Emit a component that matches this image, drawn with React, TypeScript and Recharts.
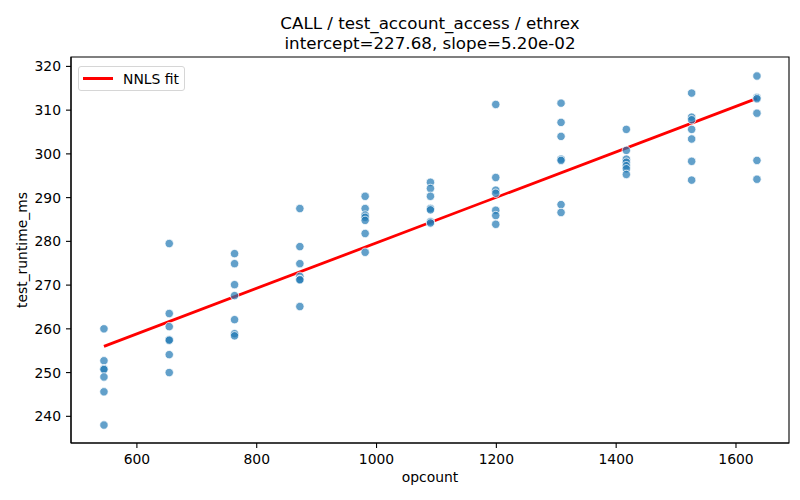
import { ComposedChart, Scatter, Line, XAxis, YAxis, ReferenceArea } from "recharts";

const opcounts = [545, 654, 763, 872, 981, 1090, 1199, 1308, 1417, 1526, 1635];

// runtimes (ms) for each opcount, top to bottom
const runtimes: number[][] = [
  [260.0, 252.7, 250.9, 250.7, 249.0, 245.6, 238.0],
  [279.5, 263.5, 260.5, 257.5, 257.4, 254.1, 250.0],
  [277.2, 274.9, 270.1, 267.6, 262.1, 258.9, 258.4],
  [287.5, 278.8, 274.9, 272.0, 271.3, 271.2, 265.1],
  [290.3, 287.5, 286.0, 285.5, 284.8, 281.8, 277.5],
  [293.5, 292.1, 290.3, 287.5, 287.2, 284.5, 284.2],
  [311.3, 294.6, 291.7, 291.0, 287.1, 285.9, 283.9],
  [311.6, 307.2, 304.0, 298.8, 298.5, 288.4, 286.6],
  [305.6, 300.8, 298.8, 298.1, 297.3, 296.6, 295.3],
  [313.9, 308.4, 307.8, 305.6, 303.4, 298.3, 294.0],
  [317.8, 312.9, 312.6, 309.3, 298.5, 294.2],
];

// NNLS fit line end points
const fitX = [545, 1635];
const fitY = [256.0, 312.7];

const xTicks = [600, 800, 1000, 1200, 1400, 1600];
const yTicks = [240, 250, 260, 270, 280, 290, 300, 310, 320];

const titleLines = ["CALL / test_account_access / ethrex", "intercept=227.68, slope=5.20e-02"];
const fitName = "NNLS fit";

const points = opcounts.flatMap((x, i) => runtimes[i].map((y) => ({ x, y })));
const fitData = fitX.map((x, i) => ({ x, y: fitY[i] }));

const X_DOMAIN = [490, 1688.5];
const Y_DOMAIN = [233.9, 322.15];
const FONT = "'DejaVu Sans', sans-serif";

const Dot = (props: any) => (
  <circle
    cx={props.cx}
    cy={props.cy}
    r={4.2}
    fill="#1f77b4"
    fillOpacity={0.7}
    stroke="#ffffff"
    strokeWidth={0.75}
  />
);

export default function App() {
  const tickStyle = { fill: "#000", fontSize: 13.9, fontFamily: FONT };

  return (
    <div style={{ position: "absolute", left: 0, top: 0, width: 800, height: 500, background: "#fff", fontFamily: FONT }}>
      <ComposedChart
        width={800}
        height={500}
        margin={{ top: 57, right: 11, bottom: 0, left: 0 }}
      >
        <XAxis
          type="number"
          dataKey="x"
          domain={X_DOMAIN}
          ticks={xTicks}
          allowDataOverflow
          height={57}
          tickSize={5}
          tickMargin={6}
          tick={tickStyle}
          stroke="#000"
          axisLine={{ stroke: "#000", strokeWidth: 1.1 }}
          tickLine={{ stroke: "#000", strokeWidth: 1.1 }}
        />
        <YAxis
          type="number"
          dataKey="y"
          domain={Y_DOMAIN}
          ticks={yTicks}
          allowDataOverflow
          width={71}
          tickSize={5}
          tickMargin={5}
          tick={tickStyle}
          stroke="#000"
          axisLine={{ stroke: "#000", strokeWidth: 1.1 }}
          tickLine={{ stroke: "#000", strokeWidth: 1.1 }}
        />
        <ReferenceArea
          x1={X_DOMAIN[0]}
          x2={X_DOMAIN[1]}
          y1={Y_DOMAIN[0]}
          y2={Y_DOMAIN[1]}
          fill="none"
          stroke="#000"
          strokeWidth={1.1}
          fillOpacity={0}
        />
        <Scatter data={points} dataKey="y" shape={Dot} isAnimationActive={false} />
        <Line
          data={fitData}
          dataKey="y"
          name={fitName}
          type="linear"
          stroke="#ff0000"
          strokeWidth={2.8}
          dot={false}
          activeDot={false}
          isAnimationActive={false}
        />
      </ComposedChart>

      <div
        style={{
          position: "absolute",
          left: 71,
          width: 718,
          top: 13,
          textAlign: "center",
          fontSize: 16.7,
          lineHeight: "20px",
          color: "#000",
          whiteSpace: "nowrap",
        }}
      >
        {titleLines.map((t) => (
          <div key={t}>{t}</div>
        ))}
      </div>

      <div
        style={{
          position: "absolute",
          left: 71,
          width: 718,
          top: 469,
          textAlign: "center",
          fontSize: 13.9,
          lineHeight: "17px",
          color: "#000",
        }}
      >
        opcount
      </div>

      <div
        style={{
          position: "absolute",
          left: 22,
          top: 250,
          transform: "translate(-50%, -50%) rotate(-90deg)",
          fontSize: 13.9,
          lineHeight: "17px",
          color: "#000",
          whiteSpace: "nowrap",
        }}
      >
        test_runtime_ms
      </div>

      <div
        style={{
          position: "absolute",
          left: 78,
          top: 66,
          width: 105,
          height: 23,
          border: "1px solid #d6d6d6",
          borderRadius: 3,
          background: "rgba(255,255,255,0.8)",
          display: "flex",
          alignItems: "center",
          fontSize: 13.9,
          color: "#000",
        }}
      >
        <span style={{ display: "inline-block", marginLeft: 4, width: 30, height: 2.8, background: "#ff0000" }} />
        <span style={{ marginLeft: 10 }}>{fitName}</span>
      </div>
    </div>
  );
}
